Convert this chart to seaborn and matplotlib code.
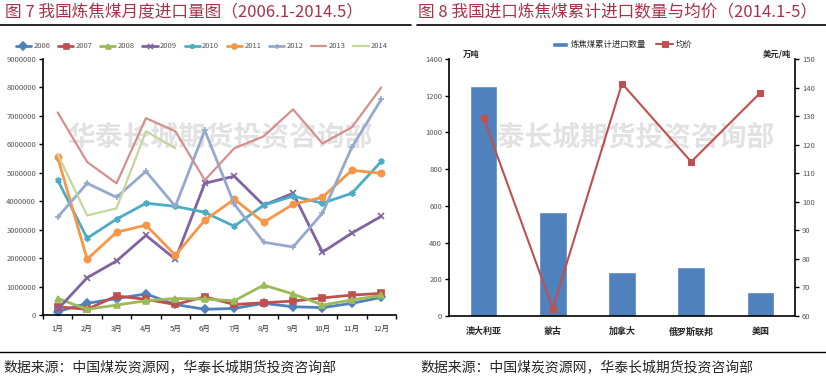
import numpy as np
import pandas as pd
import matplotlib
matplotlib.use('Agg')
import matplotlib.pyplot as plt
import seaborn as sns

# ─────────────────────────────────────────────
# Data
# ─────────────────────────────────────────────
months = ['1月', '2月', '3月', '4月', '5月', '6月', '7月', '8月', '9月', '10月', '11月', '12月']

y2006 = [120000, 410000, 580000, 740000, 370000, 200000, 230000, 410000, 290000, 260000, 410000, 620000]
y2007 = [290000, 200000, 670000, 550000, 370000, 640000, 370000, 430000, 490000, 600000, 700000, 760000]
y2008 = [580000, 200000, 350000, 500000, 580000, 560000, 500000, 1050000, 740000, 350000, 530000, 690000]
y2009 = [200000, 1310000, 1900000, 2800000, 1960000, 4630000, 4880000, 3860000, 4280000, 2210000, 2880000, 3470000]
y2010 = [4740000, 2700000, 3370000, 3930000, 3820000, 3610000, 3120000, 3860000, 4180000, 3930000, 4280000, 5400000]
y2011 = [5540000, 1960000, 2910000, 3160000, 2100000, 3330000, 4070000, 3260000, 3890000, 4140000, 5090000, 4980000]
y2012 = [3440000, 4630000, 4140000, 5050000, 3820000, 6490000, 3900000, 2560000, 2390000, 3580000, 5900000, 7580000]
y2013 = [7120000, 5380000, 4630000, 6920000, 6460000, 4740000, 5860000, 6280000, 7230000, 6030000, 6600000, 8000000]
y2014 = [5650000, 3500000, 3750000, 6460000, 5860000]

countries = ['澳大利亚', '蒙古', '加拿大', '俄罗斯联邦', '美国']
cum_volume = [1255, 565, 241, 268, 131]      # 万吨
avg_price = [129.3, 62.6, 141.4, 114.0, 138.2]  # 美元/吨

series = {
    '2006': (y2006, '#4F81BD', 'D'),
    '2007': (y2007, '#C0504D', 's'),
    '2008': (y2008, '#9BBB59', '^'),
    '2009': (y2009, '#8064A2', 'x'),
    '2010': (y2010, '#4BACC6', (6, 2, 0)),
    '2011': (y2011, '#F79646', 'o'),
    '2012': (y2012, '#95A9CE', '+'),
    '2013': (y2013, '#D4908E', None),
    '2014': (y2014, '#C3D69B', None),
}

TITLE_COLOR = '#A8324A'
WM_COLOR = '#e2e2e2'
WM_TEXT = '华泰长城期货投资咨询部'

sns.set_theme(style='white')
plt.rcParams['font.family'] = ['Noto Sans CJK SC', 'DejaVu Sans']

fig = plt.figure(figsize=(8.26, 3.8), dpi=100)

# ─────────────────────────────────────────────
# Left: monthly import volume
# ─────────────────────────────────────────────
ax = fig.add_axes([43 / 826, 1 - 315 / 380, (396 - 43) / 826, 256 / 380])
ax.text(220 / 826, 1 - 138 / 380, WM_TEXT, color=WM_COLOR, transform=fig.transFigure,
        fontsize=20, ha='center', va='center', fontweight='bold', zorder=0)

for name, (vals, color, marker) in series.items():
    x = np.arange(len(vals))
    lw = 1.6 if marker is None else 2.0
    sns.lineplot(x=x, y=vals, ax=ax, color=color, marker=marker, markersize=4.5,
                 markeredgecolor=color, markeredgewidth=1.2, linewidth=lw, label=name)

ax.set_xlim(-0.5, 11.5)
ax.set_ylim(0, 9000000)
ax.set_yticks(range(0, 9000001, 1000000))
ax.set_yticklabels([str(v) for v in range(0, 9000001, 1000000)], fontsize=5.5, color='#555555')
ax.set_xticks(range(12))
ax.set_xticklabels(months, fontsize=5.5, color='#333333')
ax.set_xticks(np.arange(-0.5, 12, 1), minor=True)
ax.tick_params(axis='x', which='major', length=0, pad=7)
ax.tick_params(axis='x', which='minor', length=3, width=1, color='black', direction='out')
ax.tick_params(axis='y', length=3, width=1, color='black', direction='out', pad=2)
ax.xaxis.set_ticks_position('bottom')
ax.yaxis.set_ticks_position('left')
for s in ['top', 'right']:
    ax.spines[s].set_visible(False)
for s in ['left', 'bottom']:
    ax.spines[s].set_color('black')
    ax.spines[s].set_linewidth(1.2)
ax.set_xlabel('')
ax.set_ylabel('')
ax.legend(loc='center', bbox_to_anchor=(0.45, 1.05), ncol=9, frameon=False,
          fontsize=5.5, handlelength=2.0, handletextpad=0.3, columnspacing=1.0,
          markerscale=0.8, labelcolor='#555555')

# ─────────────────────────────────────────────
# Right: cumulative volume and average price
# ─────────────────────────────────────────────
axr = fig.add_axes([449 / 826, 1 - 316 / 380, (795 - 449) / 826, 257 / 380])
axr.text(622 / 826, 1 - 138 / 380, WM_TEXT, color=WM_COLOR, transform=fig.transFigure,
         fontsize=20, ha='center', va='center', fontweight='bold', zorder=0)

bar_df = pd.DataFrame({'country': countries, 'volume': cum_volume})
sns.barplot(data=bar_df, x='country', y='volume', ax=axr, color='#4F81BD',
            width=0.4, saturation=1, label='炼焦煤累计进口数量', zorder=2)
axr.set_xlim(-0.5, 4.5)
axr.set_ylim(0, 1400)
axr.set_yticks(range(0, 1401, 200))
axr.tick_params(axis='y', labelsize=5.5, labelcolor='#555555', length=3, width=1,
                color='black', direction='out', pad=2)
axr.set_xticks(range(5))
axr.set_xticklabels(countries, fontsize=6.5, fontweight='bold')
axr.set_xticks(np.arange(-0.5, 5, 1), minor=True)
axr.tick_params(axis='x', which='major', length=0, pad=8)
axr.tick_params(axis='x', which='minor', length=3, width=1, color='black', direction='out')
axr.set_xlabel('')
axr.set_ylabel('')
for s in ['top', 'right']:
    axr.spines[s].set_visible(False)
for s in ['left', 'bottom']:
    axr.spines[s].set_color('black')
    axr.spines[s].set_linewidth(1.2)

ax2 = axr.twinx()
sns.lineplot(x=np.arange(len(countries)), y=avg_price, ax=ax2, color='#C0504D',
             marker='s', markersize=5, markeredgecolor='#C0504D', linewidth=1.5, label='均价')
ax2.set_ylim(60, 150)
ax2.set_yticks(range(60, 151, 10))
ax2.tick_params(axis='y', labelsize=5.5, labelcolor='#555555', length=3, width=1,
                color='black', direction='out', pad=2)
ax2.set_ylabel('')
for s in ['top', 'left', 'bottom']:
    ax2.spines[s].set_visible(False)
ax2.spines['right'].set_color('black')
ax2.spines['right'].set_linewidth(1.2)
ax2.get_legend().remove()

h1, l1 = axr.get_legend_handles_labels()
h2, l2 = ax2.get_legend_handles_labels()
axr.legend(h1 + h2, l1 + l2, loc='center', bbox_to_anchor=(0.5, 1.055), ncol=2,
           frameon=False, fontsize=6, handlelength=2.0, handletextpad=0.3, columnspacing=1.2)

axr.text(0.04, 1.0, '万吨', transform=axr.transAxes, fontsize=6, fontweight='bold',
         ha='left', va='bottom')
ax2.text(0.99, 1.0, '美元/吨', transform=ax2.transAxes, fontsize=6, fontweight='bold',
         ha='right', va='bottom')

# ─────────────────────────────────────────────
# Titles, rules and source notes
# ─────────────────────────────────────────────
fig.text(5 / 826, 1 - 13 / 380, '图 7 我国炼焦煤月度进口量图（2006.1-2014.5）',
         color=TITLE_COLOR, fontsize=12, ha='left', va='center')
fig.text(418 / 826, 1 - 13 / 380, '图 8 我国进口炼焦煤累计进口数量与均价（2014.1-5）',
         color=TITLE_COLOR, fontsize=12, ha='left', va='center')
fig.add_artist(plt.Line2D([0, 411 / 826], [1 - 25 / 380] * 2, color='black', linewidth=1.2))
fig.add_artist(plt.Line2D([417 / 826, 1], [1 - 25 / 380] * 2, color='black', linewidth=1.2))
fig.add_artist(plt.Line2D([0, 1], [1 - 352 / 380] * 2, color='black', linewidth=1.0))

fig.text(3 / 826, 1 - 367 / 380, '数据来源：中国煤炭资源网，华泰长城期货投资咨询部',
         fontsize=10, ha='left', va='center')
fig.text(420 / 826, 1 - 367 / 380, '数据来源：中国煤炭资源网，华泰长城期货投资咨询部',
         fontsize=10, ha='left', va='center')

fig.savefig('out.png', dpi=100)
